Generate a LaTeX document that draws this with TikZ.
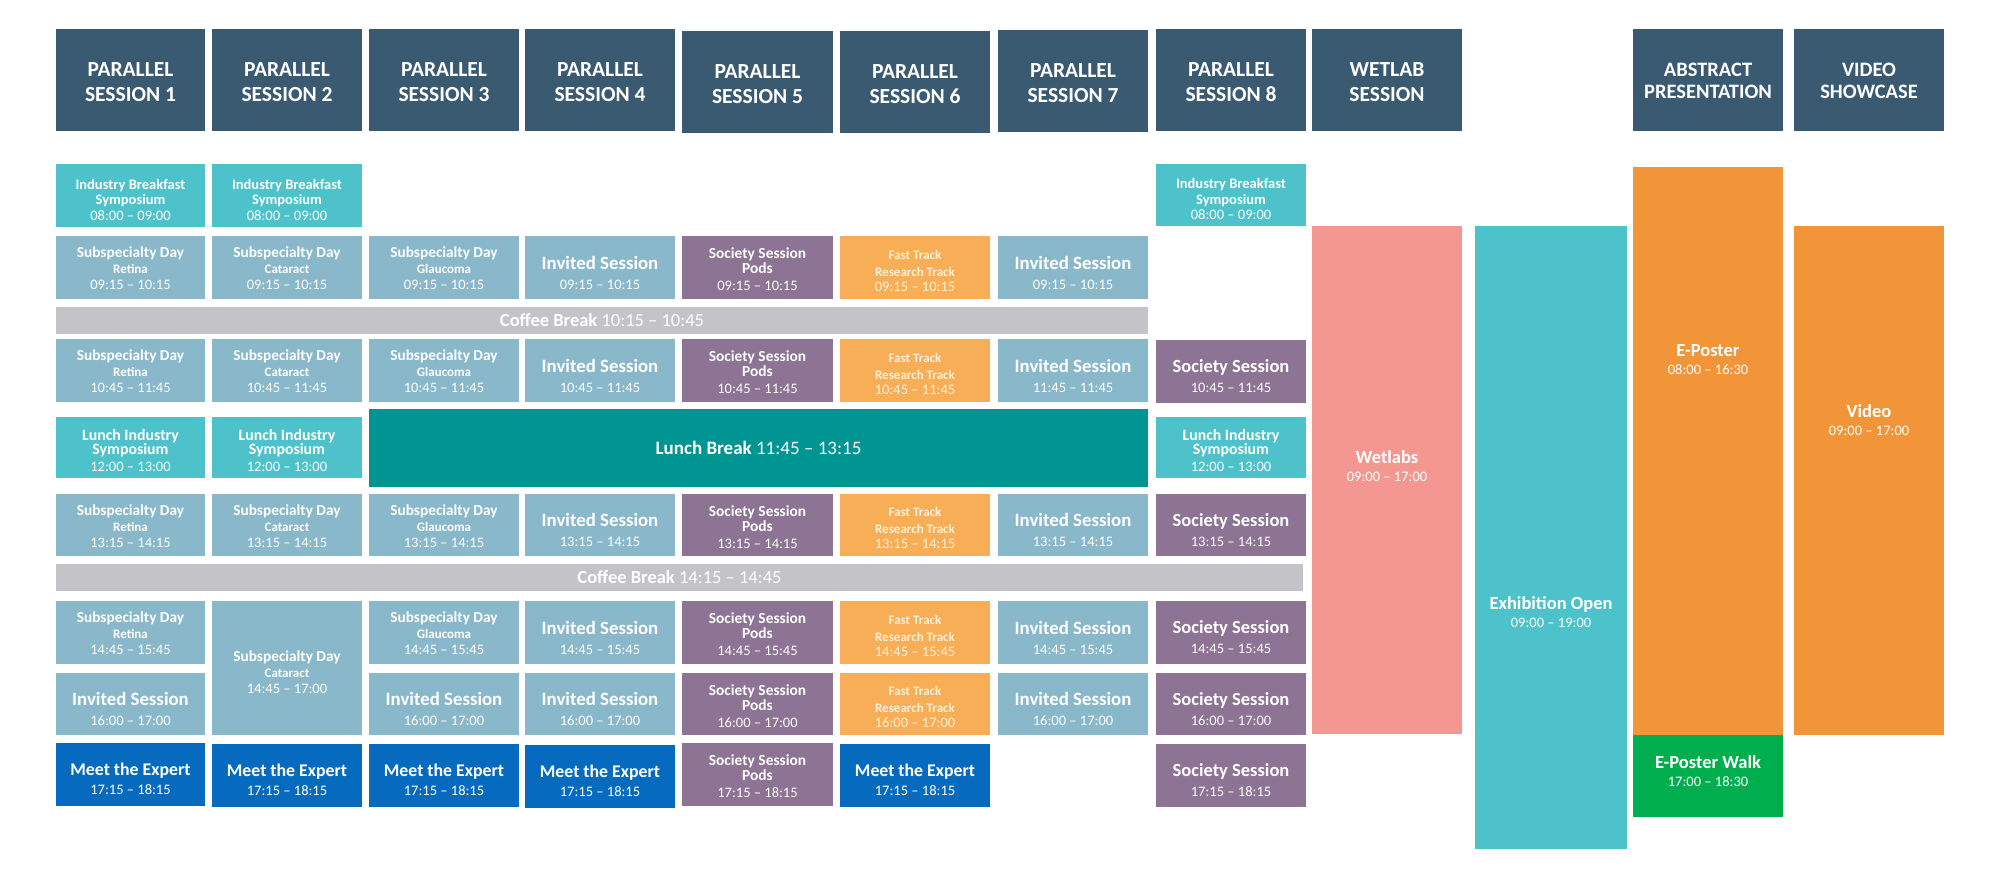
\documentclass[tikz,border=0pt]{standalone}
\usepackage{fontspec}
\setmainfont{Carlito}
\definecolor{hdrc}{HTML}{3A5A71}
\definecolor{ibsc}{HTML}{4EC2CA}
\definecolor{lbluec}{HTML}{8AB8CB}
\definecolor{purpc}{HTML}{8D7394}
\definecolor{fastc}{HTML}{F8AE57}
\definecolor{fasttxt}{HTML}{FFF0DA}
\definecolor{mtec}{HTML}{066BBF}
\definecolor{lunchc}{HTML}{009493}
\definecolor{coffc}{HTML}{C4C3C7}
\definecolor{wetc}{HTML}{F39790}
\definecolor{orc}{HTML}{F29539}
\definecolor{grc}{HTML}{00AE4E}
\newcommand\tm[1]{{\mdseries\fontsize{14.5}{15}\selectfont #1}}
\newcommand\subt[1]{{\fontsize{13}{15}\selectfont #1}}
\newcommand\cell[7]{%
  \node[#6, minimum width={(#4-#2)*1pt}, minimum height={(#5-#3)*1pt}] (#1) at (#2,#3) {};%
  \node[#6, fill=none, anchor=center, tshift] (#1t) at (#1.center) {#7};}
\tikzset{
  tshift/.style={},
  cellbox/.style={anchor=north west, inner sep=0pt, outer sep=0pt, align=center, text=white},
  hdr/.style={cellbox, fill=hdrc, font=\bfseries\fontsize{21.5}{25.5}\selectfont, tshift/.style={yshift=-2pt}},
  hdrs/.style={cellbox, fill=hdrc, font=\bfseries\fontsize{20.5}{22}\selectfont, tshift/.style={yshift=-1pt}},
  ibs/.style={cellbox, fill=ibsc, font=\bfseries\fontsize{14.5}{15.5}\selectfont, tshift/.style={yshift=-4pt}},
  lis/.style={cellbox, fill=ibsc, font=\bfseries\fontsize{15.8}{12}\selectfont, tshift/.style={yshift=-3pt}},
  subsp/.style={cellbox, fill=lbluec, font=\bfseries\fontsize{15.3}{16}\selectfont, tshift/.style={yshift=-1pt}},
  invited/.style={cellbox, fill=lbluec, font=\bfseries\fontsize{18.8}{17}\selectfont, tshift/.style={yshift=-5pt}},
  pods/.style={cellbox, fill=purpc, font=\bfseries\fontsize{15.4}{15}\selectfont, tshift/.style={yshift=-2pt}},
  society/.style={cellbox, fill=purpc, font=\bfseries\fontsize{18.5}{17}\selectfont, tshift/.style={yshift=-5pt}},
  fast/.style={cellbox, fill=fastc, text=fasttxt, font=\bfseries\fontsize{13}{17}\selectfont, tshift/.style={yshift=-3pt}},
  mte/.style={cellbox, fill=mtec, font=\bfseries\fontsize{17.8}{17}\selectfont, tshift/.style={yshift=-4pt}},
  coffee/.style={cellbox, fill=coffc, font=\bfseries\fontsize{18.5}{18}\selectfont},
  lunch/.style={cellbox, fill=lunchc, font=\bfseries\fontsize{19}{20}\selectfont},
  bigbox/.style={cellbox},
  biglab/.style={inner sep=0pt, align=center, text=white, font=\bfseries\fontsize{18.5}{18}\selectfont},
}
\begin{document}
\begin{tikzpicture}[x=1pt,y=-1pt]
\useasboundingbox[fill=white] (0,0) rectangle (2000,877);
% headers
\cell{h1}{56}{29}{205}{131}{hdr}{PARALLEL\\SESSION 1}
\cell{h2}{212}{29}{362}{131}{hdr}{PARALLEL\\SESSION 2}
\cell{h3}{369}{29}{519}{131}{hdr}{PARALLEL\\SESSION 3}
\cell{h4}{525}{29}{675}{131}{hdr}{PARALLEL\\SESSION 4}
\cell{h5}{682}{31}{833}{133}{hdr}{PARALLEL\\SESSION 5}
\cell{h6}{840}{31}{990}{133}{hdr}{PARALLEL\\SESSION 6}
\cell{h7}{998}{30}{1148}{132}{hdr}{PARALLEL\\SESSION 7}
\cell{h8}{1156}{29}{1306}{131}{hdr}{PARALLEL\\SESSION 8}
\cell{hw}{1312}{29}{1462}{131}{hdr}{WETLAB\\SESSION}
\cell{ha}{1633}{29}{1783}{131}{hdrs}{ABSTRACT\\PRESENTATION}
\cell{hv}{1794}{29}{1944}{131}{hdrs}{VIDEO\\SHOWCASE}
% breakfast
\cell{ib1}{56}{164}{205}{227}{ibs}{Industry Breakfast\\Symposium\\\tm{08:00 -- 09:00}}
\cell{ib2}{212}{164}{362}{227}{ibs}{Industry Breakfast\\Symposium\\\tm{08:00 -- 09:00}}
\cell{ib8}{1156}{164}{1306}{226}{ibs}{Industry Breakfast\\Symposium\\\tm{08:00 -- 09:00}}
% row 09:15
\cell{a1}{56}{236}{205}{299}{subsp}{Subspecialty Day\\\subt{Retina}\\\tm{09:15 -- 10:15}}
\cell{a2}{212}{236}{362}{299}{subsp}{Subspecialty Day\\\subt{Cataract}\\\tm{09:15 -- 10:15}}
\cell{a3}{369}{236}{519}{299}{subsp}{Subspecialty Day\\\subt{Glaucoma}\\\tm{09:15 -- 10:15}}
\cell{a4}{525}{236}{675}{299}{invited}{Invited Session\\[3pt]\tm{09:15 -- 10:15}}
\cell{a5}{682}{236}{833}{299}{pods}{Society Session\\Pods\\[2pt]\tm{09:15 -- 10:15}}
\cell{a6}{840}{236}{990}{299}{fast}{Fast Track\\Research Track\\[-2pt]\tm{09:15 -- 10:15}}
\cell{a7}{998}{236}{1148}{299}{invited}{Invited Session\\[3pt]\tm{09:15 -- 10:15}}
% coffee 1
\cell{cb1}{56}{307}{1148}{334}{coffee}{Coffee Break {\mdseries 10:15 -- 10:45}}
% row 10:45
\cell{b1}{56}{339}{205}{402}{subsp}{Subspecialty Day\\\subt{Retina}\\\tm{10:45 -- 11:45}}
\cell{b2}{212}{339}{362}{402}{subsp}{Subspecialty Day\\\subt{Cataract}\\\tm{10:45 -- 11:45}}
\cell{b3}{369}{339}{519}{402}{subsp}{Subspecialty Day\\\subt{Glaucoma}\\\tm{10:45 -- 11:45}}
\cell{b4}{525}{339}{675}{402}{invited}{Invited Session\\[3pt]\tm{10:45 -- 11:45}}
\cell{b5}{682}{339}{833}{402}{pods}{Society Session\\Pods\\[2pt]\tm{10:45 -- 11:45}}
\cell{b6}{840}{339}{990}{402}{fast}{Fast Track\\Research Track\\[-2pt]\tm{10:45 -- 11:45}}
\cell{b7}{998}{339}{1148}{402}{invited}{Invited Session\\[3pt]\tm{11:45 -- 11:45}}
\cell{b8}{1156}{340}{1306}{403}{society}{Society Session\\[3pt]\tm{10:45 -- 11:45}}
% lunch
\cell{li1}{56}{417}{205}{478}{lis}{Lunch Industry\\Symposium\\[5pt]\tm{12:00 -- 13:00}}
\cell{li2}{212}{417}{362}{478}{lis}{Lunch Industry\\Symposium\\[5pt]\tm{12:00 -- 13:00}}
\cell{lb}{369}{409}{1148}{487}{lunch}{Lunch Break {\mdseries 11:45 -- 13:15}}
\cell{li8}{1156}{417}{1306}{478}{lis}{Lunch Industry\\Symposium\\[5pt]\tm{12:00 -- 13:00}}
% row 13:15
\cell{c1}{56}{494}{205}{556}{subsp}{Subspecialty Day\\\subt{Retina}\\\tm{13:15 -- 14:15}}
\cell{c2}{212}{494}{362}{556}{subsp}{Subspecialty Day\\\subt{Cataract}\\\tm{13:15 -- 14:15}}
\cell{c3}{369}{494}{519}{556}{subsp}{Subspecialty Day\\\subt{Glaucoma}\\\tm{13:15 -- 14:15}}
\cell{c4}{525}{494}{675}{556}{invited}{Invited Session\\[3pt]\tm{13:15 -- 14:15}}
\cell{c5}{682}{494}{833}{556}{pods}{Society Session\\Pods\\[2pt]\tm{13:15 -- 14:15}}
\cell{c6}{840}{494}{990}{556}{fast}{Fast Track\\Research Track\\[-2pt]\tm{13:15 -- 14:15}}
\cell{c7}{998}{494}{1148}{556}{invited}{Invited Session\\[3pt]\tm{13:15 -- 14:15}}
\cell{c8}{1156}{494}{1306}{556}{society}{Society Session\\[3pt]\tm{13:15 -- 14:15}}
% coffee 2
\cell{cb2}{56}{564}{1303}{591}{coffee}{Coffee Break {\mdseries 14:15 -- 14:45}}
% row 14:45
\cell{d1}{56}{601}{205}{664}{subsp}{Subspecialty Day\\\subt{Retina}\\\tm{14:45 -- 15:45}}
\cell{d2}{212}{601}{362}{735}{subsp, tshift/.style={yshift=-4pt}}{Subspecialty Day\\\subt{Cataract}\\\tm{14:45 -- 17:00}}
\cell{d3}{369}{601}{519}{664}{subsp}{Subspecialty Day\\\subt{Glaucoma}\\\tm{14:45 -- 15:45}}
\cell{d4}{525}{601}{675}{664}{invited}{Invited Session\\[3pt]\tm{14:45 -- 15:45}}
\cell{d5}{682}{601}{833}{664}{pods}{Society Session\\Pods\\[2pt]\tm{14:45 -- 15:45}}
\cell{d6}{840}{601}{990}{664}{fast}{Fast Track\\Research Track\\[-2pt]\tm{14:45 -- 15:45}}
\cell{d7}{998}{601}{1148}{664}{invited}{Invited Session\\[3pt]\tm{14:45 -- 15:45}}
\cell{d8}{1156}{601}{1306}{664}{society}{Society Session\\[3pt]\tm{14:45 -- 15:45}}
% row 16:00
\cell{e1}{56}{673}{205}{735}{invited}{Invited Session\\[3pt]\tm{16:00 -- 17:00}}
\cell{e3}{369}{673}{519}{735}{invited}{Invited Session\\[3pt]\tm{16:00 -- 17:00}}
\cell{e4}{525}{673}{675}{735}{invited}{Invited Session\\[3pt]\tm{16:00 -- 17:00}}
\cell{e5}{682}{673}{833}{735}{pods}{Society Session\\Pods\\[2pt]\tm{16:00 -- 17:00}}
\cell{e6}{840}{673}{990}{735}{fast}{Fast Track\\Research Track\\[-2pt]\tm{16:00 -- 17:00}}
\cell{e7}{998}{673}{1148}{735}{invited}{Invited Session\\[3pt]\tm{16:00 -- 17:00}}
\cell{e8}{1156}{673}{1306}{735}{society}{Society Session\\[3pt]\tm{16:00 -- 17:00}}
% row 17:15
\cell{f1}{56}{743}{205}{806}{mte}{Meet the Expert\\[2pt]\tm{17:15 -- 18:15}}
\cell{f2}{212}{744}{362}{807}{mte}{Meet the Expert\\[2pt]\tm{17:15 -- 18:15}}
\cell{f3}{369}{744}{519}{807}{mte}{Meet the Expert\\[2pt]\tm{17:15 -- 18:15}}
\cell{f4}{525}{745}{675}{808}{mte}{Meet the Expert\\[2pt]\tm{17:15 -- 18:15}}
\cell{f5}{682}{743}{833}{806}{pods}{Society Session\\Pods\\[2pt]\tm{17:15 -- 18:15}}
\cell{f6}{840}{744}{990}{807}{mte}{Meet the Expert\\[2pt]\tm{17:15 -- 18:15}}
\cell{f8}{1156}{744}{1306}{807}{society}{Society Session\\[3pt]\tm{17:15 -- 18:15}}
% big columns
\cell{wet}{1312}{226}{1462}{734}{bigbox, fill=wetc}{}
\cell{exh}{1475}{226}{1627}{849}{bigbox, fill=ibsc}{}
\cell{ep}{1633}{167}{1783}{735}{bigbox, fill=orc}{}
\cell{epw}{1633}{735}{1783}{817}{bigbox, fill=grc}{}
\cell{vid}{1794}{226}{1944}{735}{bigbox, fill=orc}{}
\node[biglab] (wetl) at (1387,466) {Wetlabs\\\tm{09:00 -- 17:00}};
\node[biglab] (exhl) at (1551,612) {Exhibition Open\\\tm{09:00 -- 19:00}};
\node[biglab] (epl) at (1708,360) {E-Poster\\\tm{08:00 -- 16:30}};
\node[biglab] (epwl) at (1708,771) {E-Poster Walk\\\tm{17:00 -- 18:30}};
\node[biglab] (vidl) at (1869,420) {Video\\\tm{09:00 -- 17:00}};
\end{tikzpicture}
\end{document}
